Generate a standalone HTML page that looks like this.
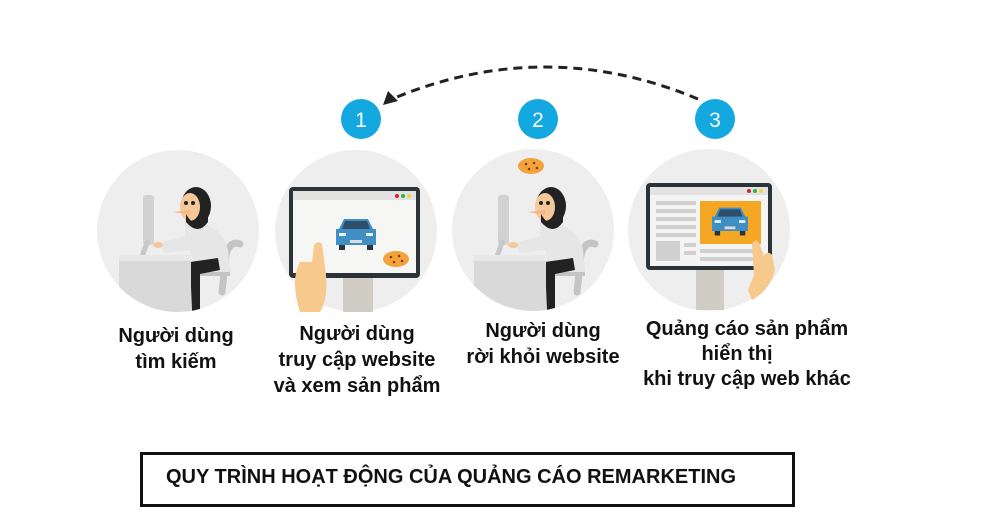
<!DOCTYPE html>
<html><head><meta charset="utf-8"><style>
html,body{margin:0;padding:0;background:#fff;}
body{width:997px;height:531px;overflow:hidden;position:relative;font-family:"Liberation Sans",Arial,sans-serif;}
.t{position:absolute;font-weight:bold;font-size:20px;color:#111;text-align:center;white-space:nowrap;line-height:26px;}
.box{position:absolute;left:140px;top:452px;width:649px;height:49px;border:3px solid #111;}
.title{position:absolute;left:166px;top:466px;font-weight:bold;font-size:20px;color:#111;white-space:nowrap;}
</style></head><body>
<svg width="997" height="531" style="position:absolute;left:0;top:0">
<defs>
<g id="person">
  <rect x="143" y="195" width="11" height="50" rx="3" fill="#d2d2d2"/>
  <path d="M148 240 L140 262 L160 262" stroke="#c8c8c8" stroke-width="5" fill="none"/>
  <path d="M222 292 L226 255 Q230 240 240 244" stroke="#c4c4c4" stroke-width="7" fill="none" stroke-linecap="round"/>
  <rect x="200" y="270" width="30" height="6" fill="#c4c4c4"/>
  <path d="M185 222 Q222 222 228 250 L230 272 L196 272 L190 250 L165 253 L160 243 L185 236 Z" fill="#e6e6e6"/>
  <path d="M190 262 L218 258 L220 270 L200 274 L200 312 L192 312 Z" fill="#222"/>
  <ellipse cx="196" cy="206" rx="15" ry="19" fill="#222"/>
  <ellipse cx="190" cy="207" rx="10" ry="14" fill="#f5c89a"/>
  <path d="M186 214 Q196 232 208 214 L208 222 Q198 236 186 222 Z" fill="#222"/>
  <circle cx="186" cy="203" r="2" fill="#222"/><circle cx="193" cy="203" r="2" fill="#222"/>
  <path d="M173 212 L190 210 L190 215 Z" fill="#f0b98a"/>
  <ellipse cx="158" cy="245" rx="5" ry="3" fill="#f5c89a"/>
  <rect x="119" y="255" width="72" height="57" fill="#d9d9d9"/>
  <rect x="119" y="255" width="72" height="6" fill="#e8e8e8"/>
</g>
<clipPath id="c1"><circle cx="178" cy="231" r="81"/></clipPath>
<clipPath id="c3"><circle cx="533" cy="230" r="81"/></clipPath>
<g id="car">
  <path d="M-17 -6 L-12 -16 L12 -16 L17 -6 L20 -6 L20 10 L-20 10 L-20 -6 Z" fill="#3f8fc4"/>
  <path d="M-11 -14 L11 -14 L14 -6 L-14 -6 Z" fill="#2d4f6b"/>
  <rect x="-17" y="10" width="6" height="5" fill="#263540"/><rect x="11" y="10" width="6" height="5" fill="#263540"/>
  <rect x="-17" y="-2" width="7" height="3" fill="#e8f3fb"/><rect x="10" y="-2" width="7" height="3" fill="#e8f3fb"/>
  <rect x="-6" y="5" width="12" height="3" fill="#ddd"/>
</g>
<g id="cookie">
  <ellipse cx="0" cy="0" rx="13" ry="8" fill="#f2a43a"/>
  <circle cx="-5" cy="-2" r="1.3" fill="#8a3b1a"/><circle cx="3" cy="-3" r="1.3" fill="#8a3b1a"/><circle cx="6" cy="2" r="1.3" fill="#8a3b1a"/><circle cx="-2" cy="3" r="1.3" fill="#8a3b1a"/>
</g>
</defs>
<circle cx="178" cy="231" r="81" fill="#eeeeee"/>
<circle cx="356" cy="231" r="81" fill="#eeeeee"/>
<circle cx="533" cy="230" r="81" fill="#eeeeee"/>
<circle cx="709" cy="230" r="81" fill="#eeeeee"/>
<g clip-path="url(#c1)"><use href="#person"/></g>
<g clip-path="url(#c3)"><use href="#person" transform="translate(355,0)"/></g>
<use href="#cookie" transform="translate(531,166)"/>
<rect x="343" y="278" width="30" height="34" fill="#d0cdc4"/>
<rect x="289" y="187" width="131" height="91" rx="4" fill="#2a3338"/>
<rect x="293" y="191" width="123" height="82" fill="#f6f6f4"/>
<rect x="293" y="191" width="123" height="9" fill="#e2e2e2"/>
<circle cx="397" cy="196" r="2" fill="#e02020"/><circle cx="403" cy="196" r="2" fill="#2bb24c"/><circle cx="409" cy="196" r="2" fill="#f4d03f"/>
<use href="#car" transform="translate(356,235)"/>
<use href="#cookie" transform="translate(396,259)"/>
<path d="M300 312 Q290 280 300 262 L312 262 L314 246 Q316 240 322 244 L326 275 Q328 300 320 312 Z" fill="#f7c98c"/>
<rect x="696" y="270" width="28" height="40" fill="#d0cdc4"/>
<rect x="646" y="183" width="126" height="87" rx="4" fill="#2a3338"/>
<rect x="650" y="187" width="118" height="79" fill="#f4f4f4"/>
<rect x="650" y="187" width="118" height="8" fill="#e2e2e2"/>
<circle cx="749" cy="191" r="2" fill="#e02020"/><circle cx="755" cy="191" r="2" fill="#2bb24c"/><circle cx="761" cy="191" r="2" fill="#f4d03f"/>
<g fill="#d0d0d0">
<rect x="656" y="201" width="40" height="4"/><rect x="656" y="209" width="40" height="4"/><rect x="656" y="217" width="40" height="4"/><rect x="656" y="225" width="40" height="4"/><rect x="656" y="233" width="40" height="4"/>
<rect x="656" y="241" width="24" height="20"/><rect x="684" y="243" width="12" height="4"/><rect x="684" y="251" width="12" height="4"/><rect x="700" y="249" width="60" height="4"/><rect x="700" y="257" width="60" height="4"/>
</g>
<rect x="700" y="201" width="61" height="43" fill="#f5a623"/>
<use href="#car" transform="translate(730,222) scale(0.9)"/>
<path d="M752 300 Q770 290 775 270 L772 255 Q768 250 764 256 L760 245 Q756 236 752 244 L754 275 L748 290 Z" fill="#f7c98c"/>
<path d="M698 99 Q545 35 392 99" fill="none" stroke="#222" stroke-width="3" stroke-dasharray="9,6"/>
<path d="M383 105 L388 91 L398 101 Z" fill="#222"/>
<circle cx="361" cy="119" r="20" fill="#14a8e0"/>
<circle cx="538" cy="119" r="20" fill="#14a8e0"/>
<circle cx="715" cy="119" r="20" fill="#14a8e0"/>
<g font-family="Liberation Sans, Arial, sans-serif" font-size="21" fill="#fff" text-anchor="middle">
<text x="361" y="127">1</text><text x="538" y="127">2</text><text x="715" y="127">3</text>
</g>
</svg>
<div class="t" style="left:76px;top:323px;width:200px;">Người dùng<br>tìm kiếm</div>
<div class="t" style="left:257px;top:321px;width:200px;">Người dùng<br>truy cập website<br>và xem sản phẩm</div>
<div class="t" style="left:443px;top:318px;width:200px;">Người dùng<br>rời khỏi website</div>
<div class="t" style="left:627px;top:317px;width:240px;line-height:25px;">Quảng cáo sản phẩm<br><span style="position:relative;left:-10px">hiển thị</span><br>khi truy cập web khác</div>
<div class="box"></div>
<div class="title">QUY TRÌNH HOẠT ĐỘNG CỦA QUẢNG CÁO REMARKETING</div>
</body></html>
